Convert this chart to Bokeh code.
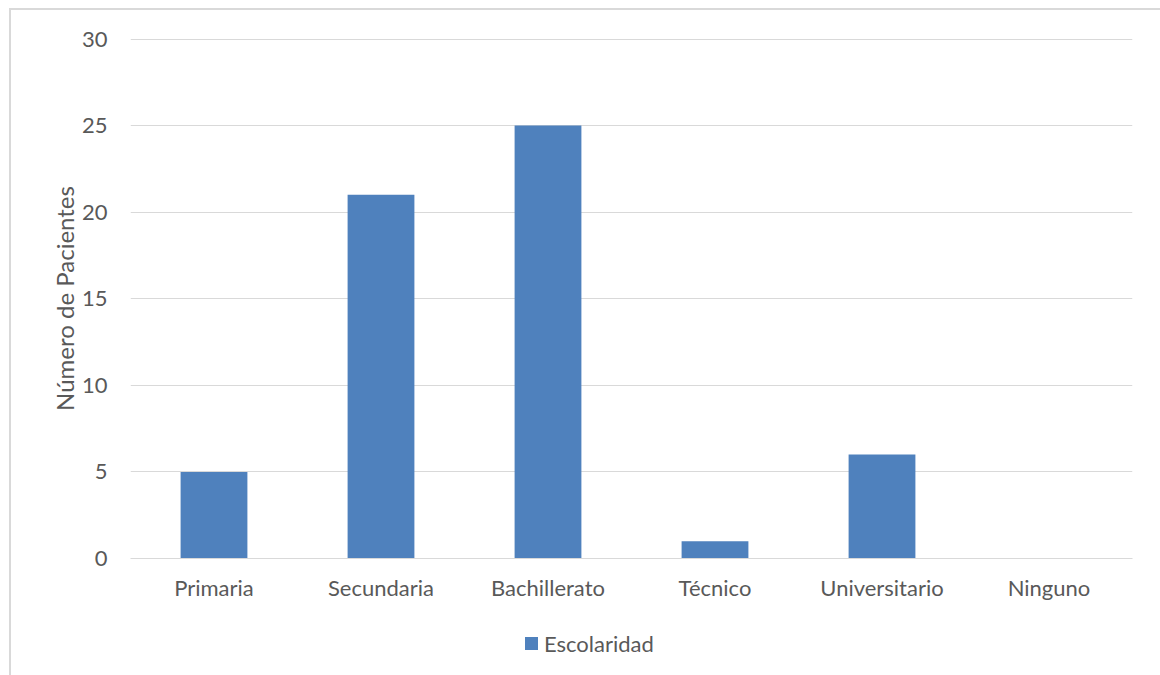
from bokeh.plotting import figure
from bokeh.models import ColumnDataSource, FixedTicker, Div
from bokeh.layouts import column
from bokeh.embed import file_html
from bokeh.resources import INLINE

categories = ["Primaria", "Secundaria", "Bachillerato", "Técnico", "Universitario", "Ninguno"]
values = [5, 21, 25, 1, 6, 0]
y_ticks = [0, 5, 10, 15, 20, 25, 30]
series_name = "Escolaridad"
y_label = "Número de Pacientes"

FONT = "Lato"
TXT = "#595959"
GRID = "#d9d9d9"
BAR = "#4f81bd"

src = ColumnDataSource(dict(cat=categories, val=values))

p = figure(x_range=categories, y_range=(0, 30.03), width=1149, height=610,
           output_backend="svg", toolbar_location=None,
           min_border_left=119, min_border_right=28, min_border_top=28, min_border_bottom=62)
p.outline_line_color = None

r = p.vbar(x="cat", top="val", width=0.4, source=src, fill_color=BAR, line_color=None)

p.yaxis.ticker = FixedTicker(ticks=y_ticks)
p.yaxis.axis_line_color = None
p.yaxis.major_tick_line_color = None
p.yaxis.minor_tick_line_color = None
p.yaxis.major_label_text_font = FONT
p.yaxis.major_label_text_font_size = "22px"
p.yaxis.major_label_text_color = TXT
p.yaxis.major_label_standoff = 17
p.yaxis.axis_label = y_label
p.yaxis.axis_label_text_font = FONT
p.yaxis.axis_label_text_font_size = "24px"
p.yaxis.axis_label_text_font_style = "normal"
p.yaxis.axis_label_text_color = TXT
p.yaxis.axis_label_standoff = 0

p.xaxis.axis_line_color = GRID
p.xaxis.major_tick_line_color = None
p.xaxis.minor_tick_line_color = None
p.xaxis.major_label_text_font = FONT
p.xaxis.major_label_text_font_size = "22px"
p.xaxis.major_label_text_color = TXT
p.xaxis.major_label_standoff = 9

p.xgrid.grid_line_color = None
p.ygrid.grid_line_color = GRID

legend_div = Div(
    text=(f'<div style="font-family:{FONT};font-size:22px;color:{TXT};white-space:nowrap;'
          f'display:flex;align-items:center;">'
          f'<span style="display:inline-block;width:13px;height:13px;background:{BAR};'
          f'margin-right:6px"></span>{series_name}</div>'),
    width=300, height=45,
    styles={"margin-left": "514px", "margin-top": "8px"})

layout = column(p, legend_div, spacing=0,
                styles={"border-left": f"2px solid {GRID}", "border-top": f"2px solid {GRID}",
                        "margin-left": "9px", "margin-top": "8px"})

open("out.html", "w").write(file_html(layout, INLINE))
